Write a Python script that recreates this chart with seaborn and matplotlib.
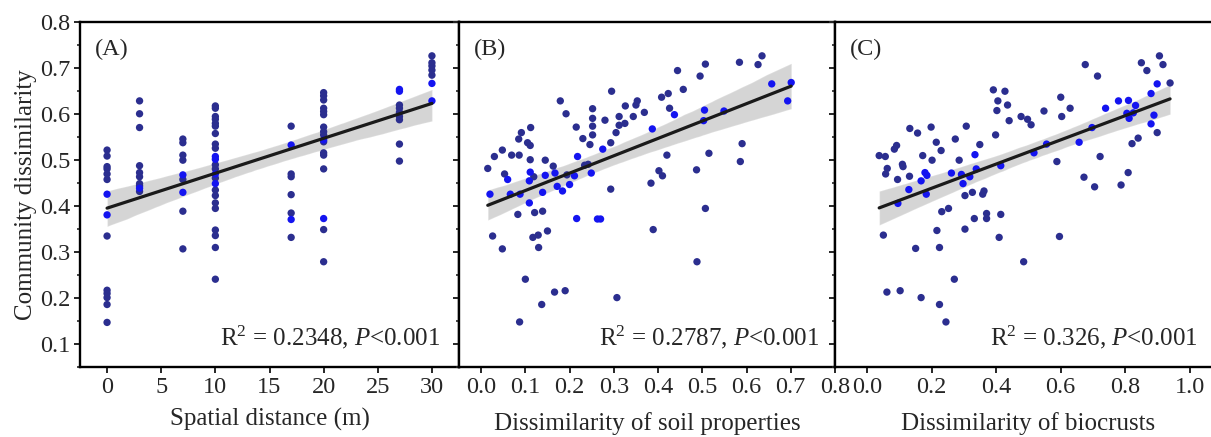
import numpy as np
import pandas as pd
import matplotlib
matplotlib.use("Agg")
import matplotlib.pyplot as plt
from matplotlib.ticker import MultipleLocator
import seaborn as sns

# ---------------------------------------------------------------
# data
# ---------------------------------------------------------------
# (A) spatial distance, points stacked on a few distance levels
spatial_levels = [0, 3, 7, 10, 17, 20, 27, 30]
spatial_dark = [
    [0.522, 0.509, 0.486, 0.481, 0.470, 0.458, 0.335, 0.217, 0.210, 0.201, 0.186, 0.147],
    [0.629, 0.601, 0.571, 0.488, 0.473, 0.464, 0.449, 0.444, 0.432],
    [0.546, 0.538, 0.511, 0.500, 0.458, 0.389, 0.307],
    [0.618, 0.613, 0.595, 0.589, 0.580, 0.574, 0.558, 0.535, 0.526, 0.490,
     0.481, 0.461, 0.435, 0.423, 0.407, 0.395, 0.348, 0.336, 0.310, 0.241],
    [0.574, 0.470, 0.464, 0.425, 0.385, 0.332],
    [0.647, 0.640, 0.631, 0.613, 0.606, 0.599, 0.572, 0.562, 0.555, 0.540,
     0.516, 0.511, 0.481, 0.349, 0.279],
    [0.620, 0.613, 0.604, 0.595, 0.588, 0.535, 0.498],
    [0.727, 0.712, 0.705, 0.696, 0.685],
]
spatial_bright_x = [0, 0, 3, 7, 7, 10, 10, 10, 10, 17, 17, 20, 20, 27, 27, 30, 30]
spatial_bright_y = [0.426, 0.381, 0.439, 0.468, 0.430, 0.508, 0.502, 0.470, 0.449,
                    0.533, 0.371, 0.544, 0.373, 0.654, 0.650, 0.667, 0.629]

# (B) soil properties
soil_dark_x = [0.015, 0.026, 0.030, 0.048, 0.048, 0.053, 0.069, 0.086, 0.085, 0.091,
               0.083, 0.087, 0.100, 0.105, 0.111, 0.112, 0.111, 0.119, 0.121, 0.117,
               0.129, 0.130, 0.137, 0.139, 0.145, 0.150, 0.163, 0.179, 0.166, 0.190,
               0.192, 0.194, 0.215, 0.230, 0.234, 0.242, 0.246, 0.252, 0.252, 0.252,
               0.252, 0.280, 0.293, 0.295, 0.293, 0.307, 0.305, 0.312, 0.312, 0.325,
               0.326, 0.344, 0.350, 0.353, 0.369, 0.384, 0.389, 0.402, 0.410, 0.420,
               0.408, 0.423, 0.426, 0.444, 0.457, 0.487, 0.488, 0.495, 0.507, 0.507,
               0.515, 0.584, 0.586, 0.590, 0.626, 0.635]
soil_dark_y = [0.482, 0.335, 0.508, 0.522, 0.307, 0.470, 0.511, 0.511, 0.546, 0.560,
               0.382, 0.148, 0.241, 0.538, 0.532, 0.571, 0.501, 0.464, 0.386, 0.332,
               0.337, 0.310, 0.186, 0.389, 0.500, 0.346, 0.487, 0.629, 0.213, 0.216,
               0.601, 0.468, 0.572, 0.547, 0.489, 0.491, 0.534, 0.612, 0.591, 0.574,
               0.555, 0.587, 0.538, 0.650, 0.437, 0.201, 0.560, 0.576, 0.595, 0.580,
               0.618, 0.595, 0.620, 0.629, 0.604, 0.450, 0.349, 0.477, 0.466, 0.511,
               0.637, 0.645, 0.613, 0.695, 0.654, 0.479, 0.279, 0.683, 0.709, 0.395,
               0.515, 0.713, 0.497, 0.536, 0.708, 0.727]
soil_bright_x = [0.020, 0.060, 0.066, 0.088, 0.111, 0.109, 0.109, 0.139, 0.145, 0.167,
                 0.172, 0.184, 0.200, 0.211, 0.218, 0.216, 0.249, 0.263, 0.270, 0.275,
                 0.387, 0.437, 0.505, 0.503, 0.549, 0.657, 0.693, 0.701]
soil_bright_y = [0.426, 0.458, 0.426, 0.426, 0.474, 0.455, 0.407, 0.430, 0.467, 0.472,
                 0.443, 0.433, 0.447, 0.466, 0.508, 0.373, 0.472, 0.372, 0.372, 0.524,
                 0.568, 0.599, 0.609, 0.586, 0.607, 0.666, 0.629, 0.669]

# (C) biocrusts
crust_dark_x = [0.037, 0.056, 0.050, 0.061, 0.062, 0.057, 0.084, 0.091, 0.094, 0.109,
                0.111, 0.102, 0.131, 0.132, 0.150, 0.156, 0.167, 0.172, 0.198, 0.201,
                0.214, 0.216, 0.224, 0.224, 0.229, 0.231, 0.244, 0.252, 0.270, 0.273,
                0.285, 0.303, 0.303, 0.307, 0.326, 0.332, 0.349, 0.358, 0.362, 0.370,
                0.370, 0.391, 0.405, 0.402, 0.398, 0.414, 0.409, 0.427, 0.435, 0.440,
                0.477, 0.485, 0.497, 0.508, 0.548, 0.588, 0.596, 0.600, 0.603, 0.629,
                0.672, 0.676, 0.705, 0.714, 0.722, 0.787, 0.809, 0.821, 0.840, 0.850,
                0.867, 0.899, 0.906, 0.917, 0.939]
crust_dark_y = [0.510, 0.508, 0.337, 0.213, 0.482, 0.470, 0.524, 0.532, 0.458, 0.491,
                0.486, 0.216, 0.465, 0.569, 0.308, 0.559, 0.201, 0.510, 0.572, 0.500,
                0.539, 0.347, 0.310, 0.186, 0.521, 0.388, 0.148, 0.395, 0.241, 0.546,
                0.500, 0.423, 0.350, 0.574, 0.430, 0.373, 0.534, 0.426, 0.433, 0.384,
                0.373, 0.653, 0.629, 0.608, 0.555, 0.382, 0.332, 0.650, 0.620, 0.586,
                0.595, 0.279, 0.589, 0.577, 0.607, 0.497, 0.334, 0.637, 0.595, 0.613,
                0.463, 0.708, 0.442, 0.683, 0.508, 0.446, 0.473, 0.536, 0.548, 0.712,
                0.695, 0.560, 0.727, 0.708, 0.668]
crust_bright_x = [0.095, 0.129, 0.167, 0.179, 0.185, 0.183, 0.261, 0.292, 0.297, 0.318,
                  0.334, 0.338, 0.414, 0.517, 0.556, 0.657, 0.697, 0.739, 0.779, 0.805,
                  0.810, 0.812, 0.825, 0.832, 0.880, 0.880, 0.889, 0.899]
crust_bright_y = [0.406, 0.436, 0.455, 0.473, 0.467, 0.426, 0.472, 0.469, 0.449, 0.464,
                  0.512, 0.481, 0.488, 0.516, 0.535, 0.539, 0.571, 0.613, 0.629, 0.602,
                  0.630, 0.591, 0.603, 0.619, 0.645, 0.579, 0.598, 0.666]

panel_tags = ["(A)", "(B)", "(C)"]
panel_xlabels = ["Spatial distance (m)", "Dissimilarity of soil properties",
                 "Dissimilarity of biocrusts"]
panel_stats = [r"R$^{2}$ = 0.2348, $\mathit{P}$<0.001",
               r"R$^{2}$ = 0.2787, $\mathit{P}$<0.001",
               r"R$^{2}$ = 0.326, $\mathit{P}$<0.001"]


def make_frame(dx, dy, bx, by):
    dark = pd.DataFrame({"x": dx, "y": dy, "grp": "dark"})
    bright = pd.DataFrame({"x": bx, "y": by, "grp": "bright"})
    return pd.concat([dark, bright], ignore_index=True)


spatial_x = []
spatial_y = []
for lev, vals in zip(spatial_levels, spatial_dark):
    spatial_x += [lev] * len(vals)
    spatial_y += vals

frames = [
    make_frame(spatial_x, spatial_y, spatial_bright_x, spatial_bright_y),
    make_frame(soil_dark_x, soil_dark_y, soil_bright_x, soil_bright_y),
    make_frame(crust_dark_x, crust_dark_y, crust_bright_x, crust_bright_y),
]

# ---------------------------------------------------------------
# style
# ---------------------------------------------------------------
sns.set_style("ticks")
plt.rcParams["font.family"] = ["Liberation Serif", "DejaVu Serif"]
plt.rcParams["mathtext.fontset"] = "custom"
plt.rcParams["mathtext.rm"] = "Liberation Serif"
plt.rcParams["mathtext.it"] = "Liberation Serif:italic"
plt.rcParams["axes.linewidth"] = 1.7
plt.rcParams["xtick.major.width"] = 1.4
plt.rcParams["ytick.major.width"] = 1.4
plt.rcParams["ytick.minor.width"] = 1.2
plt.rcParams["xtick.major.size"] = 4
plt.rcParams["ytick.major.size"] = 4
plt.rcParams["ytick.minor.size"] = 2.5
plt.rcParams["xtick.direction"] = "out"
plt.rcParams["ytick.direction"] = "out"

FS = 17.5
palette = {"dark": "#2b2e8f", "bright": "#1414f0"}

W, H = 1211, 437
fig = plt.figure(figsize=(W / 100, H / 100), dpi=100)

# pixel boxes: left, right of each panel
boxes = [(80, 459), (459, 835), (835, 1222)]
top_px, bot_px = 22.3, 367
xlims = [(-2.5, 32.5), (-0.05, 0.8), (-0.1, 1.1)]
xsteps = [5, 0.1, 0.2]
xtick_max = [30, 0.8, 1.0]
label_pads = [7, 10, 10]
stat_x = [440, 819, 1198]

axes = []
for i in range(3):
    l, r = boxes[i]
    ax = fig.add_axes([l / W, 1 - bot_px / H, (r - l) / W, (bot_px - top_px) / H])
    axes.append(ax)
    df = frames[i]

    sns.regplot(data=df, x="x", y="y", ax=ax, scatter=False, ci=95, seed=3,
                line_kws={"color": "#1a1a1a", "lw": 2.3, "zorder": 4})
    ax.collections[-1].set_alpha(0.18)
    sns.scatterplot(data=df, x="x", y="y", hue="grp", palette=palette, ax=ax,
                    s=28, linewidth=0, legend=False, zorder=3)

    ax.set_xlim(*xlims[i])
    ax.set_ylim(0.05, 0.8)
    ticks = np.arange(0, xtick_max[i] + 1e-9, xsteps[i])
    ax.set_xticks(ticks)
    if i == 0:
        ax.set_xticklabels([f"{t:.0f}" for t in ticks])
    else:
        ax.set_xticklabels([f"{t:.1f}" for t in ticks])
    ax.set_yticks(np.arange(0.1, 0.81, 0.1))
    ax.yaxis.set_minor_locator(MultipleLocator(0.05))
    ax.tick_params(axis="both", labelsize=FS, pad=3)
    for sp in ax.spines.values():
        sp.set_visible(True)
        sp.set_color("black")

    if i == 0:
        ax.set_yticklabels([f"{t:.1f}" for t in np.arange(0.1, 0.81, 0.1)])
        ax.set_ylabel("Community dissimilarity", fontsize=FS + 0.5, labelpad=2)
    else:
        ax.tick_params(axis="y", labelleft=False)
        ax.set_ylabel("")

    ax.set_xlabel(panel_xlabels[i], fontsize=FS + 0.5, labelpad=label_pads[i])

    width_px = r - l
    ax.text(15 / width_px, 0.92, panel_tags[i], transform=ax.transAxes,
            fontsize=FS, ha="left", va="center")
    ax.text((stat_x[i] - l) / width_px, 0.087, panel_stats[i], transform=ax.transAxes,
            fontsize=FS + 0.5, ha="right", va="center")

fig.savefig("out.png", dpi=100)
